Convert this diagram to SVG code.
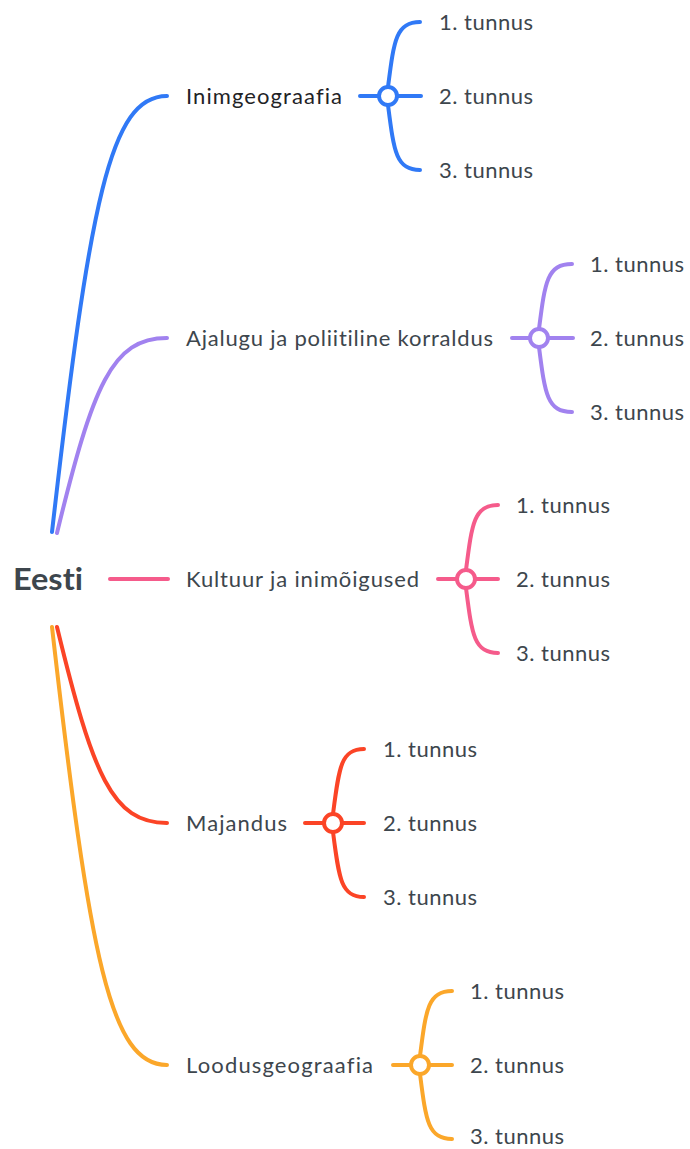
<svg xmlns="http://www.w3.org/2000/svg" width="690" height="1149" viewBox="0 0 690 1149">
<style>
.t{font-family:Lato,"Open Sans","Liberation Sans",sans-serif;font-size:22px;fill:#3d464d;font-variant-ligatures:none}
.root{font-family:Lato,"Liberation Sans",sans-serif;font-size:31px;font-weight:bold;fill:#3d464d;font-variant-ligatures:none}
.ln{fill:none;stroke-width:4;stroke-linecap:round}
.c{fill:#fff;stroke-width:4}
</style>
<rect width="690" height="1149" fill="#fff"/>
<g id="connectors">
<path class="ln" stroke="#3079f6" d="M52 532 C90 200 110 96 167 96"/>
<path class="ln" stroke="#a182ef" d="M57 533 C93 385 112 338 167 338"/>
<path class="ln" stroke="#f55b8b" d="M110 579 L168 579"/>
<path class="ln" stroke="#fb4426" d="M57 627 C93 775 112 823 167 823"/>
<path class="ln" stroke="#fba72a" d="M52 627 C90 959 110 1065 167 1065"/>
<g stroke="#3079f6">
<path class="ln" d="M360 96 L421 96 M388 87 C394 40 396 22 420 22 M388 105 C394 152 396 170 420 170"/>
<circle class="c" cx="388" cy="96" r="9"/>
</g>
<g stroke="#a182ef">
<path class="ln" d="M512 338 L573 338 M539 329 C545 282 547 264 572 264 M539 347 C545 394 547 412 572 412"/>
<circle class="c" cx="539" cy="338" r="9"/>
</g>
<g stroke="#f55b8b">
<path class="ln" d="M438 579 L498 579 M466 570 C472 523 474 505 498 505 M466 588 C472 635 474 653 498 653"/>
<circle class="c" cx="466" cy="579" r="9"/>
</g>
<g stroke="#fb4426">
<path class="ln" d="M305 823 L364 823 M333 814 C339 767 341 749 364 749 M333 832 C339 879 341 897 364 897"/>
<circle class="c" cx="333" cy="823" r="9"/>
</g>
<g stroke="#fba72a">
<path class="ln" d="M393 1065 L452 1065 M420 1056 C426 1009 428 991 452 991 M420 1074 C426 1121 428 1139 452 1139"/>
<circle class="c" cx="420" cy="1065" r="9"/>
</g>
</g>
<g id="root"><text class="root" x="13" y="590" textLength="70" lengthAdjust="spacingAndGlyphs">Eesti</text></g>
<g id="n1"><text class="t" x="186" y="104" textLength="156" style="fill:#1f2326">Inimgeograafia</text></g>
<g id="n1-1"><text class="t" x="439" y="30" textLength="94">1. tunnus</text></g>
<g id="n1-2"><text class="t" x="439" y="104" textLength="94">2. tunnus</text></g>
<g id="n1-3"><text class="t" x="439" y="178" textLength="94">3. tunnus</text></g>
<g id="n2"><text class="t" x="186" y="346" textLength="307">Ajalugu ja poliitiline korraldus</text></g>
<g id="n2-1"><text class="t" x="590" y="272" textLength="94">1. tunnus</text></g>
<g id="n2-2"><text class="t" x="590" y="346" textLength="94">2. tunnus</text></g>
<g id="n2-3"><text class="t" x="590" y="420" textLength="94">3. tunnus</text></g>
<g id="n3"><text class="t" x="186" y="587" textLength="233">Kultuur ja inimõigused</text></g>
<g id="n3-1"><text class="t" x="516" y="513" textLength="94">1. tunnus</text></g>
<g id="n3-2"><text class="t" x="516" y="587" textLength="94">2. tunnus</text></g>
<g id="n3-3"><text class="t" x="516" y="661" textLength="94">3. tunnus</text></g>
<g id="n4"><text class="t" x="186" y="831" textLength="101">Majandus</text></g>
<g id="n4-1"><text class="t" x="383" y="757" textLength="94">1. tunnus</text></g>
<g id="n4-2"><text class="t" x="383" y="831" textLength="94">2. tunnus</text></g>
<g id="n4-3"><text class="t" x="383" y="905" textLength="94">3. tunnus</text></g>
<g id="n5"><text class="t" x="186" y="1073" textLength="187">Loodusgeograafia</text></g>
<g id="n5-1"><text class="t" x="470" y="999" textLength="94">1. tunnus</text></g>
<g id="n5-2"><text class="t" x="470" y="1073" textLength="94">2. tunnus</text></g>
<g id="n5-3"><text class="t" x="470" y="1144" textLength="94">3. tunnus</text></g>
</svg>
